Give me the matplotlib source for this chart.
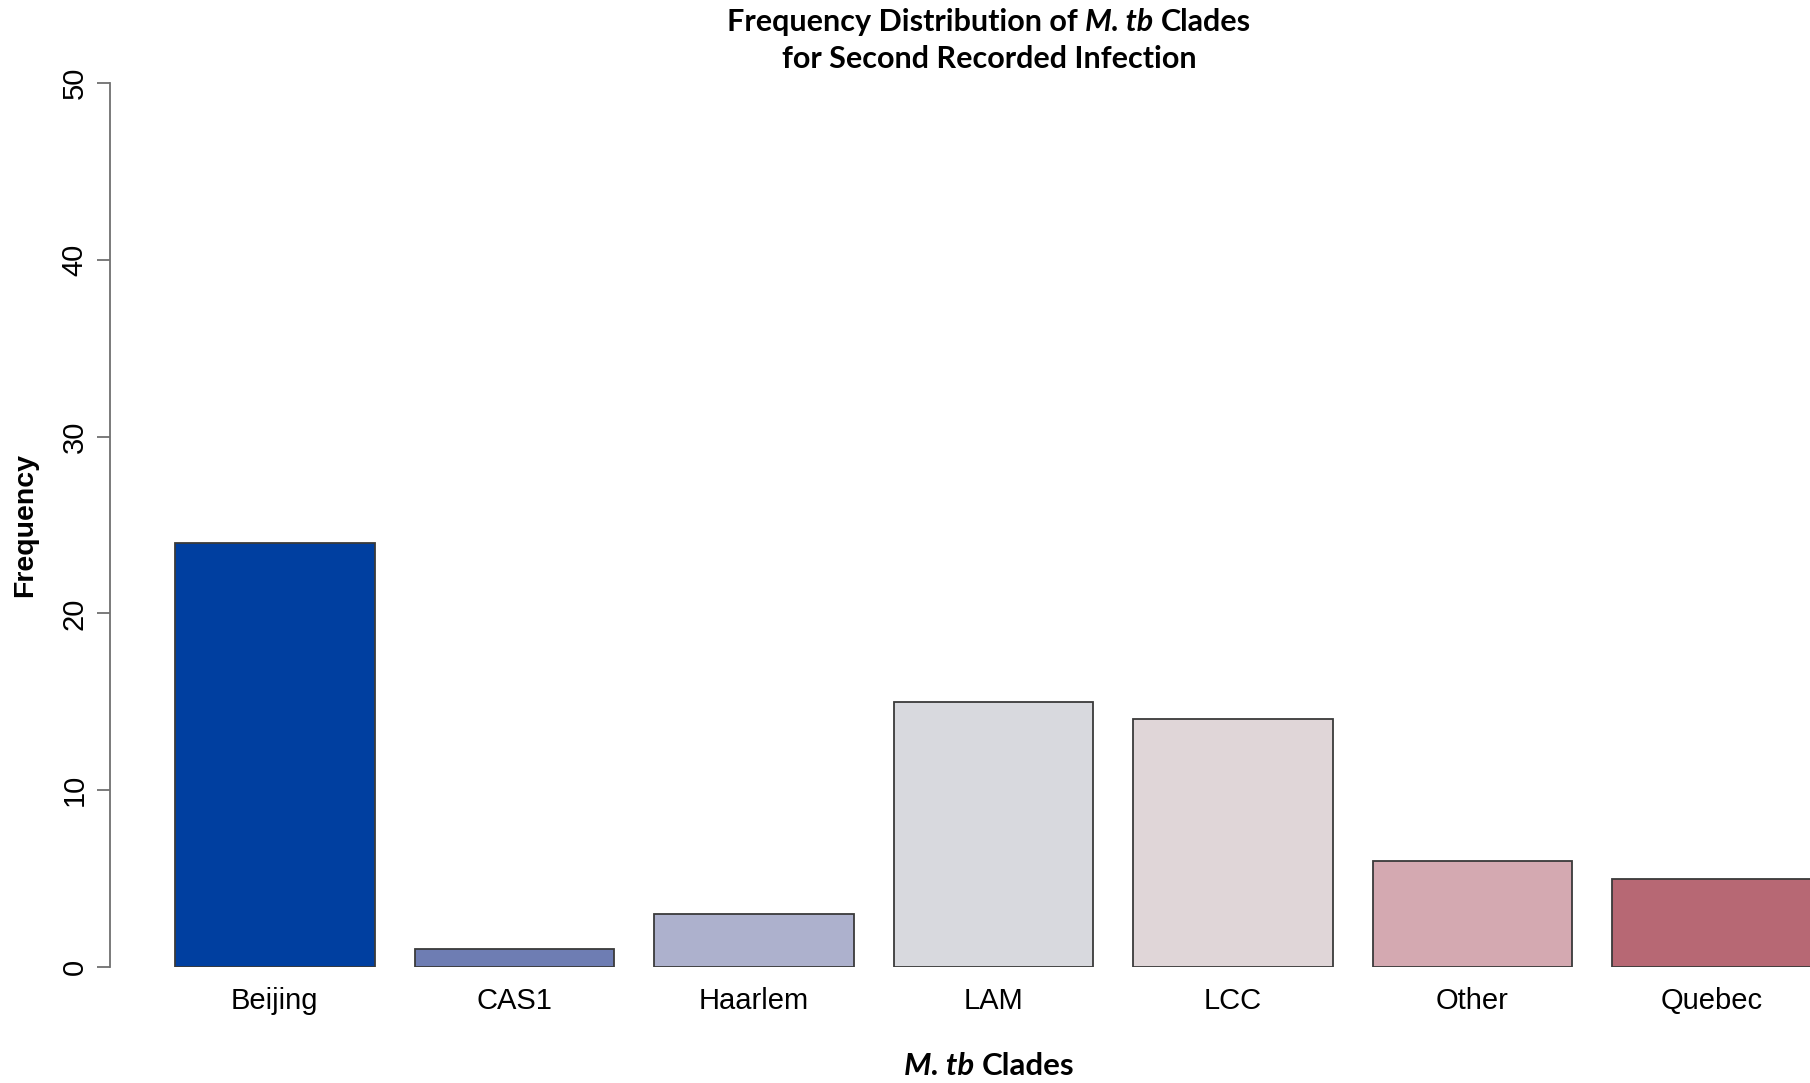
import numpy as np
import matplotlib
matplotlib.use("Agg")
import matplotlib.pyplot as plt

CLADES = ["Beijing", "CAS1", "Haarlem", "LAM", "LCC", "Other", "Quebec"]
COUNTS = [24, 1, 3, 15, 14, 6, 5]
COLORS = ["#003FA0", "#6E7DB3", "#ADB1CD", "#D8D9DE", "#E0D6D8", "#D4A9B1", "#B76874"]
YTICKS = [0, 10, 20, 30, 40, 50]

W, H, DPI = 1810, 1083, 100
AXIS_FONT = "Liberation Sans"
TITLE_FONT = "Lato"


def draw_mixed(fig, x, y, segments, size):
    '''draw a line of text made of (string, style) pieces, centred on x, y (pixels)'''
    renderer = fig.canvas.get_renderer()
    items = []
    for s, style in segments:
        t = fig.text(0, 0, s, fontsize=size, family=TITLE_FONT, fontweight="bold",
                     fontstyle=style, ha="left", va="baseline",
                     transform=None)
        items.append(t)
    # width of a single space
    probe = fig.text(0, 0, "a a", fontsize=size, family=TITLE_FONT, fontweight="bold")
    probe2 = fig.text(0, 0, "aa", fontsize=size, family=TITLE_FONT, fontweight="bold")
    space = probe.get_window_extent(renderer).width - probe2.get_window_extent(renderer).width
    probe.remove()
    probe2.remove()
    widths = [t.get_window_extent(renderer).width for t in items]
    total = sum(widths) + space * (len(items) - 1)
    cx = x - total / 2
    for t, w in zip(items, widths):
        t.set_position((cx, H - y))
        cx += w + space


fig = plt.figure(figsize=(W / DPI, H / DPI), dpi=DPI)

# plot region: y axis at x=110px, 0 at y=967px, 50 at y=83px
ax_left, ax_bottom, ax_top = 110, 967, 83
ax = fig.add_axes([ax_left / W, 1 - ax_bottom / H, 1 - ax_left / W, (ax_bottom - ax_top) / H])

# R style barplot: width 1, space 0.2
lefts = 0.2 + 1.2 * np.arange(len(CLADES))
centers = lefts + 0.5
ax.bar(centers, COUNTS, width=1.0, color=COLORS, edgecolor="#3a3a3a", linewidth=1.3)

unit = 199.6  # pixels per bar unit
ax.set_xlim(0.2 - (175 - ax_left) / unit, 0.2 + (W - 175) / unit)
ax.set_ylim(0, 50)

for side in ["top", "right", "bottom"]:
    ax.spines[side].set_visible(False)
ax.spines["left"].set_color("#707070")
ax.spines["left"].set_linewidth(1.3)

ax.set_yticks(YTICKS)
ax.set_yticklabels([str(v) for v in YTICKS], rotation=90, va="center",
                   family=AXIS_FONT, fontsize=21)
ax.tick_params(axis="y", length=9.5, width=1.3, color="#707070", pad=6)
ax.set_xticks(centers)
ax.set_xticklabels(CLADES, family=AXIS_FONT, fontsize=21)
ax.tick_params(axis="x", length=0, pad=14.5)

fig.text(25 / W, 1 - 525 / H, "Frequency", rotation=90, ha="center", va="center",
         family=AXIS_FONT, fontweight="bold", fontsize=20.5)

draw_mixed(fig, 989, 31, [("Frequency Distribution of", "normal"), ("M. tb", "italic"),
                          ("Clades", "normal")], 22)
draw_mixed(fig, 989, 68, [("for Second Recorded Infection", "normal")], 22)
draw_mixed(fig, 989, 1075, [("M. tb", "italic"), ("Clades", "normal")], 22.5)

fig.savefig("out.png", dpi=DPI)
